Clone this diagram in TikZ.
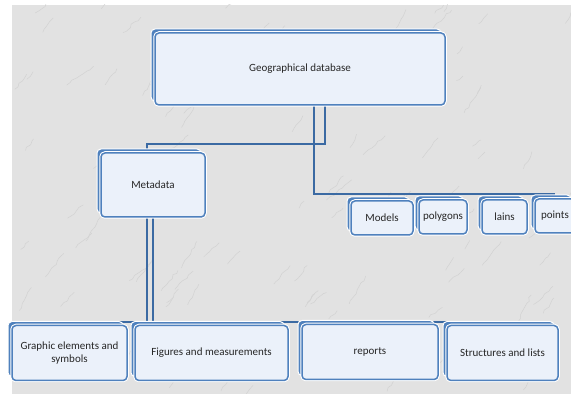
\documentclass[tikz,border=0pt]{standalone}
\usepackage{fontspec}
\setmainfont{Carlito}
\usetikzlibrary{shadows,decorations.pathmorphing}

\definecolor{boxblue}{HTML}{4F81BD}
\definecolor{boxfill}{HTML}{EBF1FA}
\definecolor{linkblue}{HTML}{3B6AA3}
\definecolor{marble}{HTML}{E2E2E2}

\pgfdeclarelayer{marblelayer}
\pgfdeclarelayer{linklayer}
\pgfsetlayers{marblelayer,linklayer,main}

\begin{document}
\begin{tikzpicture}[x=1pt,y=-1pt,
        box/.style={rectangle, rounded corners=4pt, draw=boxblue, line width=1.5pt,
                        fill=boxfill, text=black!85, inner sep=2pt, align=center,
                        font=\fontsize{11}{13}\selectfont,
                        general shadow={fill=boxblue, draw=white, line width=1pt,
                                shadow xshift=-4pt, shadow yshift=4pt},
                        preaction={draw=white, line width=3.5pt}},
        link/.style={draw=linkblue, line width=2pt},
        vein/.style={draw=gray!35, line width=0.5pt,
                        decorate, decoration={random steps, segment length=4pt, amplitude=1.2pt}}]
        \useasboundingbox (0,0) rectangle (571,398);
        % marble background
        \begin{pgfonlayer}{marblelayer}
            \fill[marble] (12,5) rectangle (571,394);
            \clip (12,5) rectangle (571,394);
            \pgfmathsetseed{11}
            \foreach \i in {1,...,110} {
                \pgfmathsetmacro\vx{12+559*rnd}
                \pgfmathsetmacro\vy{5+389*rnd}
                \pgfmathsetmacro\va{-35-30*rnd}
                \pgfmathsetmacro\vl{8+25*rnd}
                \draw[vein] (\vx,\vy) -- ++(\va:\vl);
            }
        \end{pgfonlayer}

        % boxes
        \node[box, minimum width=290, minimum height=72] (geo) at (300,69) {Geographical database};
        \node[box, minimum width=104, minimum height=64] (meta) at (153,185) {Metadata};
        \node[box, minimum width=62, minimum height=34] (models) at (382,218) {Models};
        \node[box, minimum width=48, minimum height=34] (polygons) at (443,217) {polygons};
        \node[box, minimum width=45, minimum height=34] (lains) at (504.5,217) {lains};
        \node[box, minimum width=40, minimum height=34] (points) at (555,216) {points};
        \node[box, minimum width=115, minimum height=55] (graphic) at (69.5,353) {Graphic elements and\\symbols};
        \node[box, minimum width=153, minimum height=55] (figures) at (211.5,353) {Figures and measurements};
        \node[box, minimum width=136, minimum height=55] (reports) at (370,352) {reports};
        \node[box, minimum width=111, minimum height=55] (structures) at (502.5,353) {Structures and lists};

        % connectors, behind the boxes
        \begin{pgfonlayer}{linklayer}
            \draw[link] ([xshift=25pt]geo.south) -- ++(0,38) -| ([xshift=-6pt]meta.north);
            \draw[link] ([xshift=14pt]geo.south) |- ([yshift=4pt]points.north);
            \draw[link] ([xshift=-6pt]meta.south) -- ++(0,104) -| ([yshift=4pt]graphic.north);
            \draw[link] (meta.south) -- ++(0,104) -| ([yshift=4pt]structures.north);
        \end{pgfonlayer}
\end{tikzpicture}
\end{document}
